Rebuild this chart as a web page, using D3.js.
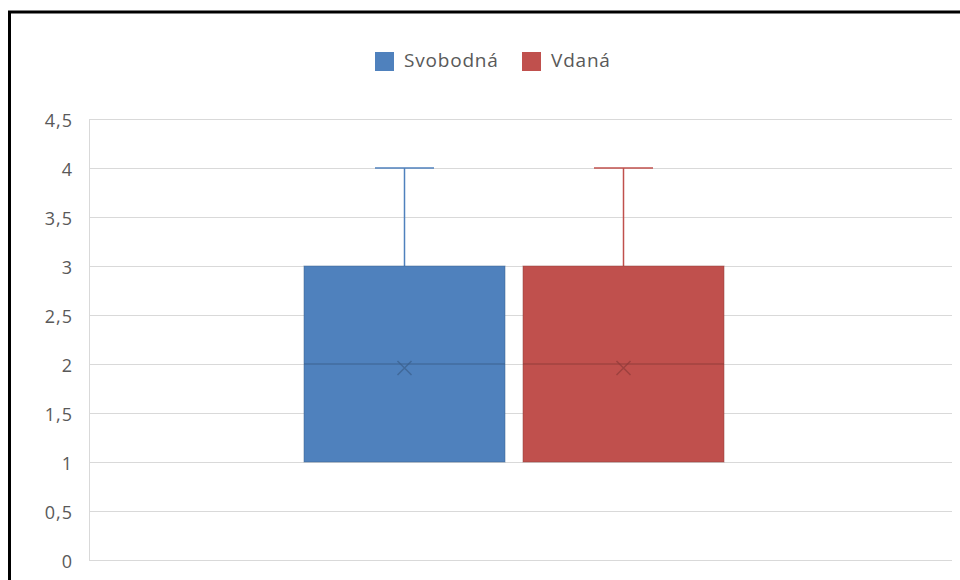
<!DOCTYPE html>
<html><head><meta charset="utf-8">
<script src="https://cdn.jsdelivr.net/npm/d3@7"></script>
<style>
html,body{margin:0;padding:0;background:#fff;}
svg{display:block;}
</style></head>
<body>
<script>
const categories = [""];
const seriesNames = ["Svobodná", "Vdaná"];
const seriesMin = [1, 1];
const seriesQ1 = [1, 1];
const seriesMedian = [2, 2];
const seriesQ3 = [3, 3];
const seriesMax = [4, 4];
const seriesMean = [1.96, 1.96];
const yTicks = [0, 0.5, 1, 1.5, 2, 2.5, 3, 3.5, 4, 4.5];
const seriesColors = ["#4F81BD", "#C0504D"];
const seriesDark = ["#3A5F8B", "#8E3B39"];

const W = 960, H = 580;
const svg = d3.select("body").append("svg").attr("width", W).attr("height", H);

// frame
svg.append("path").attr("d", "M9.5,580 L9.5,12 L960,12").attr("fill","none")
  .attr("stroke","#000").attr("stroke-width",3);

const plotLeft = 89, plotRight = 952, plotTop = 119, plotBottom = 560;
const y = d3.scaleLinear().domain([0, 4.5]).range([plotBottom, plotTop]);
const x0 = d3.scaleBand().domain(categories).range([plotLeft, plotRight]).paddingInner(0).paddingOuter(0);
const x1 = d3.scaleBand().domain(seriesNames).range([x0(categories[0]) + 215, x0(categories[0]) + x0.bandwidth() - 228])
  .paddingInner(0.0822).paddingOuter(0);

// gridlines
svg.append("g").selectAll("line").data(yTicks).join("line")
  .attr("x1", plotLeft).attr("x2", plotRight)
  .attr("y1", d => Math.round(y(d)) + 0.5).attr("y2", d => Math.round(y(d)) + 0.5)
  .attr("stroke", "#d9d9d9").attr("stroke-width", 1);
svg.append("line").attr("x1", plotLeft + 0.5).attr("x2", plotLeft + 0.5)
  .attr("y1", y(4.5)).attr("y2", y(0)).attr("stroke", "#d9d9d9");

// y axis labels
const fmt = d => String(d).replace(".", ",");
svg.append("g").selectAll("text").data(yTicks).join("text")
  .attr("x", 73).attr("y", d => y(d) + 3)
  .attr("text-anchor", "end").attr("dominant-baseline", "middle")
  .attr("font-family", "'Open Sans', sans-serif").attr("font-size", 18)
  .attr("letter-spacing", 1)
  .attr("fill", "#595959").text(fmt);

// boxes
const data = seriesNames.map((s, i) => ({
  name: s, min: seriesMin[i], q1: seriesQ1[i], med: seriesMedian[i], q3: seriesQ3[i],
  max: seriesMax[i], mean: seriesMean[i], color: seriesColors[i], dark: seriesDark[i]
}));
const g = svg.append("g");
data.forEach(d => {
  const bx = x1(d.name), bw = x1.bandwidth(), cx = bx + bw / 2;
  const capW = 59;
  g.append("line").attr("x1", cx).attr("x2", cx).attr("y1", y(d.max)).attr("y2", y(d.q3))
    .attr("stroke", d.color).attr("stroke-width", 1.5);
  g.append("line").attr("x1", cx - capW / 2).attr("x2", cx + capW / 2).attr("y1", y(d.max)).attr("y2", y(d.max))
    .attr("stroke", d.color).attr("stroke-width", 1.5);
  g.append("line").attr("x1", cx).attr("x2", cx).attr("y1", y(d.min)).attr("y2", y(d.q1))
    .attr("stroke", d.color).attr("stroke-width", 1.5);
  g.append("rect").attr("x", bx).attr("y", y(d.q3)).attr("width", bw).attr("height", y(d.q1) - y(d.q3))
    .attr("fill", d.color).attr("stroke", d.dark).attr("stroke-opacity", 0.5).attr("stroke-width", 1);
  g.append("line").attr("x1", bx).attr("x2", bx + bw).attr("y1", y(d.med)).attr("y2", y(d.med))
    .attr("stroke", d.dark).attr("stroke-opacity", 0.6).attr("stroke-width", 1.5);
  const my = y(d.mean), s = 7;
  g.append("path").attr("d", `M${cx - s},${my - s}L${cx + s},${my + s}M${cx - s},${my + s}L${cx + s},${my - s}`)
    .attr("stroke", d.dark).attr("stroke-opacity", 0.7).attr("stroke-width", 1.5).attr("fill", "none");
});

// legend
const legendItems = [{ name: seriesNames[0], x: 375 }, { name: seriesNames[1], x: 522 }];
const lg = svg.append("g");
legendItems.forEach((it, i) => {
  lg.append("rect").attr("x", it.x).attr("y", 52).attr("width", 19).attr("height", 19)
    .attr("fill", seriesColors[i]);
  lg.append("text").attr("x", it.x + 29).attr("y", 62).attr("dominant-baseline", "middle")
    .attr("font-family", "'Open Sans', sans-serif").attr("font-size", 19)
    .attr("letter-spacing", 0.8)
    .attr("fill", "#595959").text(it.name);
});
</script>
</body></html>
